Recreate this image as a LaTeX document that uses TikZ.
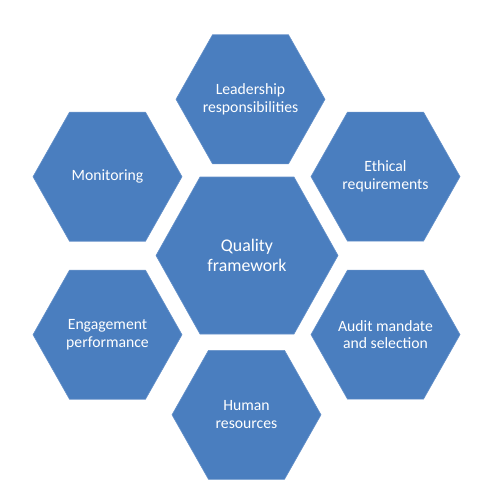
\documentclass[tikz,border=0pt]{standalone}
\usepackage{fontspec}
\setmainfont{Carlito}
\definecolor{hexblue}{HTML}{4A7EBF}
\tikzset{
  hexfill/.style={fill=hexblue, draw=hexblue!85!white, line width=0.6pt},
  hexlabel/.style={text=white, align=center, font=\fontsize{15.7}{17.7}\selectfont, inner sep=0pt},
  hexlabelbig/.style={text=white, align=center, font=\fontsize{17.8}{19.5}\selectfont, inner sep=0pt}
}
\newcommand{\hexcell}[8]{%
  % #1 name, #2 cx, #3 cy, #4 half width, #5 half height, #6 half edge, #7 style, #8 text
  \fill[hexfill] ({#2-#4},{#3}) -- ({#2-#6},{#3-#5}) -- ({#2+#6},{#3-#5}) --
    ({#2+#4},{#3}) -- ({#2+#6},{#3+#5}) -- ({#2-#6},{#3+#5}) -- cycle;
  \node[#7] (#1) at (#2,#3) {#8};
}
\begin{document}
\begin{tikzpicture}[x=1pt,y=-1pt]
\useasboundingbox (0,0) rectangle (487,503);
\hexcell{leader}{250.5}{99.3}{74.5}{64.5}{38}{hexlabel}{Leadership\\responsibilities}
\hexcell{monitor}{107.5}{176.7}{74.5}{64.5}{38}{hexlabel}{Monitoring}
\hexcell{ethical}{385.5}{176.6}{74.5}{64.5}{38}{hexlabel}{Ethical\\requirements}
\hexcell{quality}{247}{255.5}{91}{78.5}{47}{hexlabelbig}{Quality\\framework}
\hexcell{engage}{107.5}{334.7}{74.5}{64.5}{38}{hexlabel}{Engagement\\performance}
\hexcell{audit}{385.5}{334.6}{74.5}{64.5}{38}{hexlabel}{Audit mandate\\and selection}
\hexcell{human}{246.5}{414.8}{74.5}{64.5}{38}{hexlabel}{Human\\resources}
\end{tikzpicture}
\end{document}
